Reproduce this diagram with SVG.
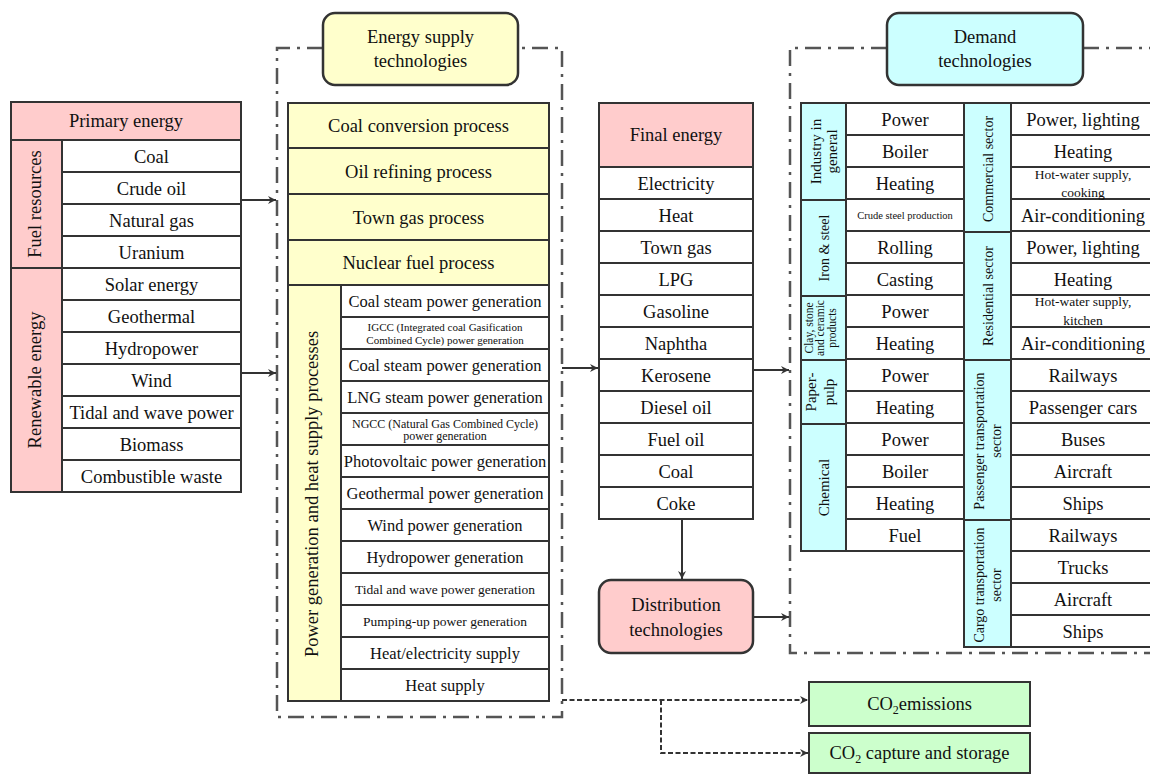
<svg xmlns="http://www.w3.org/2000/svg" width="1150" height="776" viewBox="0 0 1150 776">
<style>
text { font-family: "Liberation Serif", "Times New Roman", serif; fill: #111; text-anchor: middle; }
.t { font-size: 18.5px; }
.m { font-size: 16.5px; }
.s13 { font-size: 13.5px; }
.s11 { font-size: 11px; }
.s12 { font-size: 12px; }
.v15 { font-size: 15px; }
.v14 { font-size: 14px; }
.v11 { font-size: 11.5px; }
.cell { fill: #fff; stroke: #333; stroke-width: 2; }
.pink { fill: #ffcccc; stroke: #333; stroke-width: 2; }
.yel { fill: #ffffcc; stroke: #333; stroke-width: 2; }
.cyan { fill: #ccffff; stroke: #333; stroke-width: 2; }
.green { fill: #ccffcc; stroke: #333; stroke-width: 2; }
.title { stroke-width: 2.5; }
.frame { fill: none; stroke: #555; stroke-width: 2.5; stroke-dasharray: 16 7 3 7; }
.conn { fill: none; stroke: #333; stroke-width: 2; }
.dash { stroke-dasharray: 5 2.5; }
</style>
<defs>
<marker id="arr" markerUnits="userSpaceOnUse" markerWidth="11" markerHeight="11" refX="9" refY="5" orient="auto">
<path d="M1,1 L9,5 L1,9 L3.5,5 Z" fill="#333"/>
</marker>
</defs>

<!-- frames -->
<g id="frames">
<path class="frame" d="M323,48 H277 V717 H562 V48 H518"/>
<path class="frame" d="M887,48 H790 V653 H1152"/>
<path class="frame" d="M1083,48 H1152"/>
</g>

<g id="primary-energy">
<rect class="pink" x="11" y="102" width="230" height="38"/>
<text class="t" x="126" y="127">Primary energy</text>
<rect class="pink" x="11" y="140" width="51" height="128"/>
<rect class="pink" x="11" y="268" width="51" height="224"/>
<text class="t" transform="translate(35,204) rotate(-90)" y="6">Fuel resources</text>
<text class="t" transform="translate(35,380) rotate(-90)" y="6">Renewable energy</text>
<rect class="cell" x="62" y="140" width="179" height="32"/>
<rect class="cell" x="62" y="172" width="179" height="32"/>
<rect class="cell" x="62" y="204" width="179" height="32"/>
<rect class="cell" x="62" y="236" width="179" height="32"/>
<rect class="cell" x="62" y="268" width="179" height="32"/>
<rect class="cell" x="62" y="300" width="179" height="32"/>
<rect class="cell" x="62" y="332" width="179" height="32"/>
<rect class="cell" x="62" y="364" width="179" height="32"/>
<rect class="cell" x="62" y="396" width="179" height="32"/>
<rect class="cell" x="62" y="428" width="179" height="32"/>
<rect class="cell" x="62" y="460" width="179" height="32"/>
<text class="t" x="151.5" y="162.5">Coal</text>
<text class="t" x="151.5" y="194.5">Crude oil</text>
<text class="t" x="151.5" y="226.5">Natural gas</text>
<text class="t" x="151.5" y="258.5">Uranium</text>
<text class="t" x="151.5" y="290.5">Solar energy</text>
<text class="t" x="151.5" y="322.5">Geothermal</text>
<text class="t" x="151.5" y="354.5">Hydropower</text>
<text class="t" x="151.5" y="386.5">Wind</text>
<text class="t" x="151.5" y="418.5">Tidal and wave power</text>
<text class="t" x="151.5" y="450.5">Biomass</text>
<text class="t" x="151.5" y="482.5">Combustible waste</text>
</g>

<g id="energy-supply">
<rect class="yel title" x="323" y="13" width="195" height="72" rx="12"/>
<text class="t" x="420.5" y="43">Energy supply</text>
<text class="t" x="420.5" y="67">technologies</text>
<rect class="yel" x="288" y="103" width="261" height="45"/>
<rect class="yel" x="288" y="148" width="261" height="46"/>
<rect class="yel" x="288" y="194" width="261" height="46"/>
<rect class="yel" x="288" y="240" width="261" height="45"/>
<text class="t" x="418.5" y="132">Coal conversion process</text>
<text class="t" x="418.5" y="177.5">Oil refining process</text>
<text class="t" x="418.5" y="223.5">Town gas process</text>
<text class="t" x="418.5" y="269">Nuclear fuel process</text>
<rect class="yel" x="288" y="285" width="53" height="416"/>
<text class="t" transform="translate(312,494) rotate(-90)" y="6">Power generation and heat supply processes</text>
<rect class="cell" x="341" y="285" width="208" height="32"/>
<rect class="cell" x="341" y="317" width="208" height="32"/>
<rect class="cell" x="341" y="349" width="208" height="32"/>
<rect class="cell" x="341" y="381" width="208" height="32"/>
<rect class="cell" x="341" y="413" width="208" height="32"/>
<rect class="cell" x="341" y="445" width="208" height="32"/>
<rect class="cell" x="341" y="477" width="208" height="32"/>
<rect class="cell" x="341" y="509" width="208" height="32"/>
<rect class="cell" x="341" y="541" width="208" height="32"/>
<rect class="cell" x="341" y="573" width="208" height="32"/>
<rect class="cell" x="341" y="605" width="208" height="32"/>
<rect class="cell" x="341" y="637" width="208" height="32"/>
<rect class="cell" x="341" y="669" width="208" height="32"/>
<text class="m" x="445" y="307">Coal steam power generation</text>
<text class="s11" x="445" y="331">IGCC (Integrated coal Gasification</text>
<text class="s11" x="445" y="344">Combined Cycle) power generation</text>
<text class="m" x="445" y="371">Coal steam power generation</text>
<text class="m" x="445" y="403">LNG steam power generation</text>
<text class="s12" x="445" y="428">NGCC (Natural Gas Combined Cycle)</text>
<text class="s12" x="445" y="440">power generation</text>
<text class="m" x="445" y="467">Photovoltaic power generation</text>
<text class="m" x="445" y="499">Geothermal power generation</text>
<text class="m" x="445" y="531">Wind power generation</text>
<text class="m" x="445" y="563">Hydropower generation</text>
<text class="s13" x="445" y="594">Tidal and wave power generation</text>
<text class="s13" x="445" y="626">Pumping-up power generation</text>
<text class="m" x="445" y="659">Heat/electricity supply</text>
<text class="m" x="445" y="691">Heat supply</text>
</g>

<g id="final-energy">
<rect class="pink" x="599" y="103" width="154" height="64"/>
<text class="t" x="676" y="141">Final energy</text>
<rect class="cell" x="599" y="167" width="154" height="32"/>
<rect class="cell" x="599" y="199" width="154" height="32"/>
<rect class="cell" x="599" y="231" width="154" height="32"/>
<rect class="cell" x="599" y="263" width="154" height="32"/>
<rect class="cell" x="599" y="295" width="154" height="32"/>
<rect class="cell" x="599" y="327" width="154" height="32"/>
<rect class="cell" x="599" y="359" width="154" height="32"/>
<rect class="cell" x="599" y="391" width="154" height="32"/>
<rect class="cell" x="599" y="423" width="154" height="32"/>
<rect class="cell" x="599" y="455" width="154" height="32"/>
<rect class="cell" x="599" y="487" width="154" height="32"/>
<text class="t" x="676" y="189.5">Electricity</text>
<text class="t" x="676" y="221.5">Heat</text>
<text class="t" x="676" y="253.5">Town gas</text>
<text class="t" x="676" y="285.5">LPG</text>
<text class="t" x="676" y="317.5">Gasoline</text>
<text class="t" x="676" y="349.5">Naphtha</text>
<text class="t" x="676" y="381.5">Kerosene</text>
<text class="t" x="676" y="413.5">Diesel oil</text>
<text class="t" x="676" y="445.5">Fuel oil</text>
<text class="t" x="676" y="477.5">Coal</text>
<text class="t" x="676" y="509.5">Coke</text>
</g>

<g id="distribution">
<rect class="pink title" x="599" y="580" width="154" height="73" rx="12"/>
<text class="t" x="676" y="611">Distribution</text>
<text class="t" x="676" y="636">technologies</text>
</g>

<g id="demand">
<rect class="cyan title" x="887" y="13" width="196" height="72" rx="12"/>
<text class="t" x="985" y="43">Demand</text>
<text class="t" x="985" y="67">technologies</text>
<rect class="cyan" x="801" y="103" width="45" height="97"/>
<rect class="cyan" x="801" y="200" width="45" height="96"/>
<rect class="cyan" x="801" y="296" width="45" height="64"/>
<rect class="cyan" x="801" y="360" width="45" height="64"/>
<rect class="cyan" x="801" y="424" width="45" height="127"/>
<text class="v15" transform="translate(823.5,151.5) rotate(-90)" y="-3">Industry in</text>
<text class="v15" transform="translate(823.5,151.5) rotate(-90)" y="13">general</text>
<text class="v14" transform="translate(823.5,248) rotate(-90)" y="5">Iron &amp; steel</text>
<text class="v11" transform="translate(823.5,328) rotate(-90)" y="-11">Clay, stone</text>
<text class="v11" transform="translate(823.5,328) rotate(-90)" y="0.5">and ceramic</text>
<text class="v11" transform="translate(823.5,328) rotate(-90)" y="12">products</text>
<text class="v15" transform="translate(823.5,392) rotate(-90)" y="-8">Paper-</text>
<text class="v15" transform="translate(823.5,392) rotate(-90)" y="10">pulp</text>
<text class="v15" transform="translate(823.5,487.5) rotate(-90)" y="5">Chemical</text>
<rect class="cell" x="846" y="103" width="118" height="32"/>
<rect class="cell" x="846" y="135" width="118" height="32"/>
<rect class="cell" x="846" y="167" width="118" height="32"/>
<rect class="cell" x="846" y="199" width="118" height="32"/>
<rect class="cell" x="846" y="231" width="118" height="32"/>
<rect class="cell" x="846" y="263" width="118" height="32"/>
<rect class="cell" x="846" y="295" width="118" height="32"/>
<rect class="cell" x="846" y="327" width="118" height="32"/>
<rect class="cell" x="846" y="359" width="118" height="32"/>
<rect class="cell" x="846" y="391" width="118" height="32"/>
<rect class="cell" x="846" y="423" width="118" height="32"/>
<rect class="cell" x="846" y="455" width="118" height="32"/>
<rect class="cell" x="846" y="487" width="118" height="32"/>
<rect class="cell" x="846" y="519" width="118" height="32"/>
<text class="t" x="905" y="125.5">Power</text>
<text class="t" x="905" y="157.5">Boiler</text>
<text class="t" x="905" y="189.5">Heating</text>
<text x="905" y="219" style="font-size:10.5px">Crude steel production</text>
<text class="t" x="905" y="253.5">Rolling</text>
<text class="t" x="905" y="285.5">Casting</text>
<text class="t" x="905" y="317.5">Power</text>
<text class="t" x="905" y="349.5">Heating</text>
<text class="t" x="905" y="381.5">Power</text>
<text class="t" x="905" y="413.5">Heating</text>
<text class="t" x="905" y="445.5">Power</text>
<text class="t" x="905" y="477.5">Boiler</text>
<text class="t" x="905" y="509.5">Heating</text>
<text class="t" x="905" y="541.5">Fuel</text>

<rect class="cyan" x="964" y="103" width="47" height="129"/>
<rect class="cyan" x="964" y="232" width="47" height="128"/>
<rect class="cyan" x="964" y="360" width="47" height="160"/>
<rect class="cyan" x="964" y="520" width="47" height="127"/>
<text class="v14" transform="translate(987.5,169) rotate(-90)" y="5">Commercial sector</text>
<text class="v14" transform="translate(987.5,296) rotate(-90)" y="5">Residential sector</text>
<text class="v14" transform="translate(987.5,441) rotate(-90)" y="-4">Passenger transportation</text>
<text class="v14" transform="translate(987.5,441) rotate(-90)" y="13">sector</text>
<text class="v14" transform="translate(987.5,585) rotate(-90)" y="-4">Cargo transportation</text>
<text class="v14" transform="translate(987.5,585) rotate(-90)" y="13">sector</text>
<rect class="cell" x="1011" y="103" width="145" height="32"/>
<rect class="cell" x="1011" y="135" width="145" height="32"/>
<rect class="cell" x="1011" y="167" width="145" height="32"/>
<rect class="cell" x="1011" y="199" width="145" height="32"/>
<rect class="cell" x="1011" y="231" width="145" height="32"/>
<rect class="cell" x="1011" y="263" width="145" height="32"/>
<rect class="cell" x="1011" y="295" width="145" height="32"/>
<rect class="cell" x="1011" y="327" width="145" height="32"/>
<rect class="cell" x="1011" y="359" width="145" height="32"/>
<rect class="cell" x="1011" y="391" width="145" height="32"/>
<rect class="cell" x="1011" y="423" width="145" height="32"/>
<rect class="cell" x="1011" y="455" width="145" height="32"/>
<rect class="cell" x="1011" y="487" width="145" height="32"/>
<rect class="cell" x="1011" y="519" width="145" height="32"/>
<rect class="cell" x="1011" y="551" width="145" height="32"/>
<rect class="cell" x="1011" y="583" width="145" height="32"/>
<rect class="cell" x="1011" y="615" width="145" height="32"/>
<text class="t" x="1083" y="125.5">Power, lighting</text>
<text class="t" x="1083" y="157.5">Heating</text>
<text class="s13" x="1083" y="179">Hot-water supply,</text>
<text class="s13" x="1083" y="197">cooking</text>
<text class="t" x="1083" y="221.5">Air-conditioning</text>
<text class="t" x="1083" y="253.5">Power, lighting</text>
<text class="t" x="1083" y="285.5">Heating</text>
<text class="s13" x="1083" y="306">Hot-water supply,</text>
<text class="s13" x="1083" y="325">kitchen</text>
<text class="t" x="1083" y="349.5">Air-conditioning</text>
<text class="t" x="1083" y="381.5">Railways</text>
<text class="t" x="1083" y="413.5">Passenger cars</text>
<text class="t" x="1083" y="445.5">Buses</text>
<text class="t" x="1083" y="477.5">Aircraft</text>
<text class="t" x="1083" y="509.5">Ships</text>
<text class="t" x="1083" y="541.5">Railways</text>
<text class="t" x="1083" y="573.5">Trucks</text>
<text class="t" x="1083" y="605.5">Aircraft</text>
<text class="t" x="1083" y="637.5">Ships</text>
</g>

<g id="co2-emissions">
<rect class="green" x="809" y="682" width="221" height="44"/>
<text class="t" x="919.5" y="710">CO<tspan style="font-size:12px" dy="4">2</tspan><tspan dy="-4">emissions</tspan></text>
</g>

<g id="co2-capture">
<rect class="green" x="809" y="733" width="221" height="40"/>
<text class="t" x="919.5" y="759">CO<tspan style="font-size:12px" dy="4">2</tspan><tspan dy="-4"> capture and storage</tspan></text>
</g>

<g id="connectors">
<path class="conn" d="M241,200 H276" marker-end="url(#arr)"/>
<path class="conn" d="M241,373 H276" marker-end="url(#arr)"/>
<path class="conn" d="M562,368 H598" marker-end="url(#arr)"/>
<path class="conn" d="M753,370 H789" marker-end="url(#arr)"/>
<path class="conn" d="M682,520 V579" marker-end="url(#arr)"/>
<path class="conn" d="M753,617 H789" marker-end="url(#arr)"/>
<path class="conn dash" d="M562,700 H808" marker-end="url(#arr)"/>
<path class="conn dash" d="M661,700 V753 H808" marker-end="url(#arr)"/>
</g>
</svg>
